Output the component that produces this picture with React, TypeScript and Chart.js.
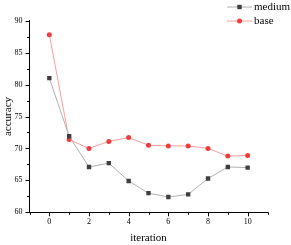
import React, { useEffect, useRef } from "react";
import { Chart, registerables } from "chart.js";

Chart.register(...registerables);

const iterations = [0, 1, 2, 3, 4, 5, 6, 7, 8, 9, 10];
const mediumValues = [81.0, 71.9, 67.1, 67.7, 64.9, 63.0, 62.4, 62.8, 65.3, 67.1, 67.0];
const baseValues = [87.8, 71.4, 70.0, 71.1, 71.7, 70.5, 70.4, 70.4, 70.0, 68.8, 68.9];
const seriesLabels = ["medium", "base"];
const xTickLabels = [0, 2, 4, 6, 8, 10];
const yTickLabels = [60, 65, 70, 75, 80, 85, 90];

const FONT = '"Liberation Serif", "Times New Roman", serif';

const tickPlugin = {
  id: "customTicks",
  afterDraw(chart: any) {
    const ctx = chart.ctx;
    const xs = chart.scales.x;
    const ys = chart.scales.y;
    const area = chart.chartArea;
    ctx.save();
    ctx.strokeStyle = "#000";
    ctx.lineWidth = 1;
    ctx.beginPath();
    for (let v = -1; v <= 11; v += 1) {
      const px = Math.round(xs.getPixelForValue(v)) + 0.5;
      const major = xTickLabels.includes(v);
      ctx.moveTo(px, area.bottom);
      ctx.lineTo(px, area.bottom + (major ? 4 : 2.5));
    }
    for (let v = 60; v <= 90; v += 2.5) {
      const py = Math.round(ys.getPixelForValue(v)) + 0.5;
      const major = yTickLabels.includes(v);
      ctx.moveTo(area.left, py);
      ctx.lineTo(area.left - (major ? 4 : 2.5), py);
    }
    ctx.stroke();

    // legend
    const items = chart.data.datasets;
    const lx0 = 227;
    const lx1 = 252;
    const ly0 = 7;
    const dy = 14;
    items.forEach((ds: any, i: number) => {
      const y = ly0 + i * dy;
      ctx.strokeStyle = ds.borderColor;
      ctx.lineWidth = 1;
      ctx.beginPath();
      ctx.moveTo(lx0, y);
      ctx.lineTo(lx1, y);
      ctx.stroke();
      ctx.fillStyle = ds.pointBackgroundColor;
      const cx = (lx0 + lx1) / 2;
      if (ds.pointStyle === "rect") {
        ctx.fillRect(cx - 2.2, y - 2.2, 4.4, 4.4);
      } else {
        ctx.beginPath();
        ctx.arc(cx, y, 2.5, 0, Math.PI * 2);
        ctx.fill();
      }
      ctx.fillStyle = "#000";
      ctx.font = `11px ${FONT}`;
      ctx.textAlign = "left";
      ctx.textBaseline = "middle";
      ctx.fillText(ds.label, 254, y);
    });
    ctx.restore();
  },
};

export default function App() {
  const ref = useRef<HTMLCanvasElement | null>(null);
  useEffect(() => {
    if (!ref.current) return;
    const chart = new Chart(ref.current, {
      type: "line",
      data: {
        datasets: [
          {
            label: seriesLabels[0],
            data: iterations.map((x, i) => ({ x, y: mediumValues[i] })),
            borderColor: "#b0b0b0",
            backgroundColor: "#3e3e3e",
            pointBackgroundColor: "#3e3e3e",
            pointBorderColor: "#3e3e3e",
            pointStyle: "rect",
            pointRadius: 3.1,
            pointBorderWidth: 0,
            borderWidth: 1,
            tension: 0,
          },
          {
            label: seriesLabels[1],
            data: iterations.map((x, i) => ({ x, y: baseValues[i] })),
            borderColor: "#ff9c9c",
            backgroundColor: "#f03c3c",
            pointBackgroundColor: "#f03c3c",
            pointBorderColor: "#f03c3c",
            pointStyle: "circle",
            pointRadius: 2.5,
            pointBorderWidth: 0,
            borderWidth: 1,
            tension: 0,
          },
        ],
      },
      options: {
        responsive: false,
        animation: false,
        layout: { padding: { top: 20.7, right: 23.5, left: 0, bottom: 0 } },
        plugins: {
          legend: { display: false },
          tooltip: { enabled: false },
        },
        scales: {
          x: {
            type: "linear",
            min: -1,
            max: 11,
            afterFit: (s: any) => {
              s.height = 32.7;
            },
            grid: { display: false, drawTicks: false },
            border: { display: true, color: "#000", width: 1 },
            ticks: {
              stepSize: 1,
              autoSkip: false,
              maxRotation: 0,
              padding: 5,
              color: "#000",
              font: { family: FONT, size: 8 },
              callback: (v: any) => (xTickLabels.includes(Number(v)) ? String(v) : ""),
            },
            title: {
              display: true,
              text: "iteration",
              color: "#000",
              font: { family: FONT, size: 11 },
              padding: { top: 0, bottom: 0 },
            },
          },
          y: {
            type: "linear",
            min: 60,
            max: 90,
            afterFit: (s: any) => {
              s.width = 29.5;
            },
            grid: { display: false, drawTicks: false },
            border: { display: true, color: "#000", width: 1 },
            ticks: {
              stepSize: 2.5,
              autoSkip: false,
              padding: 7,
              color: "#000",
              font: { family: FONT, size: 8 },
              callback: (v: any) => (yTickLabels.includes(Number(v)) ? String(v) : ""),
            },
            title: {
              display: true,
              text: "accuracy",
              color: "#000",
              font: { family: FONT, size: 11 },
              padding: { top: 2, bottom: 0 },
            },
          },
        },
      },
      plugins: [tickPlugin],
    } as any);
    return () => chart.destroy();
  }, []);
  return (
    <div style={{ position: "fixed", left: 0, top: 0, width: 291, height: 245, background: "#fff" }}>
      <canvas ref={ref} width={291} height={245} style={{ display: "block" }} />
    </div>
  );
}
